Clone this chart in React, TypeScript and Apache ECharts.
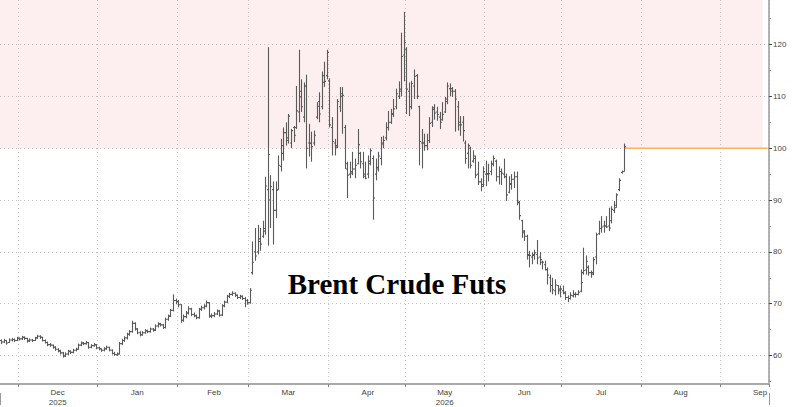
import React, { useEffect, useRef } from "react";
import * as echarts from "echarts";

// ---- data ----
const START_DATE = "2025-11-24";
const DAY_COUNT = 300;
const TITLE = "Brent Crude Futs";
const REF_LEVEL = 100;
const Y_MIN = 54.5;
const Y_MAX = 128.6;
const Y_MAJOR_TICKS = [60, 70, 80, 90, 100, 110, 120];
const Y_MINOR_TICKS = [55, 65, 75, 85, 95, 105, 115, 125];
const MONTH_NAMES = ["Jan", "Feb", "Mar", "Apr", "May", "Jun", "Jul", "Aug", "Sep", "Oct", "Nov", "Dec"];
const YEAR_LABELS: Record<string, string> = { "2025-12": "2025", "2026-05": "2026" };
const YEAR_BREAK = "2026-01-01";

const OPENS = [
  62.9, 62.6, 62.9, 62.5, 63.0, 63.1, 62.9, 63.3, 63.2, 63.5,
  63.3, 62.8, 63.0, 62.9, 63.4, 63.7, 63.5, 62.9, 62.5, 62.1,
  62.0, 61.6, 61.2, 60.9, 60.5, 59.9, 60.3, 60.8, 60.6, 61.0,
  61.2, 62.0, 62.4, 62.3, 62.5, 61.6, 61.9, 62.1, 61.5, 61.3,
  61.0, 61.3, 61.6, 61.0, 60.4, 60.2, 60.3, 62.3, 62.9, 63.4,
  64.1, 64.6, 66.2, 65.1, 64.4, 64.0, 64.4, 64.8, 64.6, 65.1,
  64.9, 65.7, 66.1, 65.9, 65.4, 67.0, 67.6, 68.7, 70.6, 70.4,
  69.8, 66.8, 67.5, 68.2, 69.0, 67.9, 67.7, 67.3, 68.9, 69.2,
  69.5, 70.2, 67.6, 67.7, 68.0, 68.6, 67.8, 69.6, 70.3, 71.4,
  71.8, 72.0, 71.6, 71.2, 71.4, 71.0, 70.6, 70.2, 76, 80,
  80, 82.5, 83, 84, 92, 90, 92, 88, 92, 96.5,
  99, 103, 102, 101, 104, 104, 107, 111, 106, 112,
  101, 101, 101, 106, 109, 108, 114, 114, 113, 104,
  101, 100.5, 108, 110, 104, 96, 95, 95.5, 96, 97,
  99, 97, 95, 95, 97, 98, 95, 96, 98, 101,
  102, 104, 105, 106.5, 108, 110, 111, 118, 119, 111,
  108, 112, 114, 108, 101, 101, 100.5, 101.5, 105, 107.5,
  107, 106, 105.5, 107, 109, 111.5, 111, 111, 108, 105,
  105, 101, 99, 100, 97.5, 98, 95, 93.5, 93, 95,
  95, 95.5, 97, 97.5, 94.5, 95.5, 95, 94.5, 91.5, 93,
  94, 94.5, 89.5, 86, 84, 83, 79.5, 79, 79.5, 79.5,
  79, 78, 77.5, 76.5, 75, 73.5, 72.5, 73.5, 72.5, 72.5,
  72, 71.2, 71, 71.5, 71.8, 71.8, 72.4, 76, 76.5, 77,
  76, 76, 79, 83.5, 84.5, 85, 85, 85, 86, 88,
  89, 92, 95.3, 95.5,
];
const HIGHS = [
  63.1, 63.2, 63.0, 63.3, 63.4, 63.3, 63.6, 63.5, 63.8, 63.7,
  63.4, 63.3, 63.2, 63.6, 64.0, 63.9, 63.6, 63.1, 62.7, 62.4,
  62.1, 61.8, 61.4, 61.1, 60.7, 60.6, 61.1, 61.0, 61.3, 61.5,
  62.3, 62.7, 62.6, 62.8, 62.6, 62.2, 62.4, 62.2, 61.7, 61.4,
  61.6, 61.9, 61.7, 61.2, 60.7, 60.6, 62.6, 63.2, 63.7, 64.4,
  64.9, 66.7, 66.4, 65.3, 64.7, 64.7, 65.1, 65.0, 65.4, 65.3,
  66.0, 66.4, 66.3, 66.1, 67.3, 67.9, 69.0, 71.8, 71.0, 70.7,
  69.9, 67.9, 68.6, 69.5, 69.2, 68.3, 67.9, 69.2, 69.6, 69.9,
  70.6, 70.3, 68.1, 68.4, 68.9, 68.8, 69.9, 70.6, 71.7, 72.1,
  72.4, 72.2, 71.8, 71.7, 71.6, 71.3, 70.9, 73.0, 82, 84.6,
  85.2, 84.6, 86, 94.5, 119.5, 94.8, 93.6, 93.6, 98.6, 101.8,
  104, 105, 106.6, 103.7, 104.3, 112, 119, 113.3, 112.7, 114.2,
  104.7, 103.2, 103.4, 108.9, 110.8, 114.8, 116.7, 119, 113.5, 106,
  101.8, 109.5, 111.8, 111.8, 104.5, 97.4, 97.4, 99.3, 98, 103.7,
  99.3, 99.3, 97.4, 98.6, 100, 98.6, 98, 99.3, 102.2, 102.4,
  105, 107.2, 107.6, 109.5, 111.5, 112.9, 122.3, 126.3, 119.5, 112.7,
  113, 115.2, 114.3, 108.2, 103.7, 102.8, 102.8, 106, 108.1, 108.5,
  108, 107, 108.9, 109.9, 112.7, 112.5, 111.8, 111.4, 109.1, 106.2,
  106.2, 101.5, 100.9, 100.3, 99.6, 98.6, 97.4, 94.2, 96.5, 97.6,
  97, 97.6, 98.6, 97.8, 96.5, 96.1, 98, 95.1, 94.6, 95,
  95.5, 95.5, 89.8, 86.2, 84.2, 83.3, 80.2, 79.9, 80.4, 82.3,
  80, 78.3, 78.3, 77, 75.6, 75, 74.7, 73.6, 73.5, 73.5,
  72.4, 71.6, 72.2, 72.6, 72.2, 72.6, 76.6, 80.8, 79.3, 77.4,
  76.4, 79, 83.7, 86, 86.9, 86, 86.9, 88.5, 88.8, 89.8,
  91.3, 94.2, 95.7, 100.9,
];
const LOWS = [
  62.2, 62.4, 62.1, 62.4, 62.7, 62.6, 62.8, 62.9, 63.0, 63.0,
  62.5, 62.6, 62.6, 62.8, 63.2, 63.2, 62.7, 62.3, 61.8, 61.7,
  61.3, 60.9, 60.6, 60.2, 59.6, 59.7, 60.1, 60.3, 60.4, 60.8,
  61.1, 61.8, 62.0, 62.1, 61.3, 61.4, 61.7, 61.2, 61.0, 60.7,
  60.8, 61.1, 60.8, 60.2, 59.9, 59.9, 60.2, 62.0, 62.6, 63.1,
  63.8, 64.4, 64.8, 64.1, 63.7, 63.8, 64.2, 64.3, 64.4, 64.6,
  64.7, 65.4, 65.6, 65.1, 65.2, 66.7, 67.4, 68.5, 69.9, 69.3,
  66.3, 66.5, 67.2, 67.9, 67.6, 67.4, 67.0, 67.1, 68.6, 68.9,
  69.3, 67.3, 67.2, 67.4, 67.8, 67.5, 67.6, 69.3, 70.1, 71.1,
  71.5, 71.3, 70.9, 70.9, 70.7, 69.3, 69.8, 70.0, 75.6, 78.3,
  79.5, 80.2, 82.7, 83.3, 81.2, 84.6, 81.4, 86.5, 92, 95.5,
  97.6, 100.5, 100.9, 100, 101.2, 103.7, 105, 107, 105, 96.1,
  98.4, 97.4, 100.5, 105.6, 105, 107.5, 111.8, 113.3, 104, 98.6,
  98.6, 100, 107, 102.8, 96, 90.4, 94.2, 94.8, 94.2, 96.9,
  96.1, 94.2, 94.0, 94.2, 96.7, 86.2, 93.8, 95.5, 96.7, 100,
  101.5, 103.4, 104.7, 106, 107.5, 109.5, 110, 112.9, 106.6, 106.2,
  107.5, 109.5, 109.5, 96.7, 96.1, 99.5, 99.6, 101, 104.1, 105.5,
  105.3, 103.7, 105.3, 106.8, 108.5, 110, 109.9, 103.2, 103.4, 102.4,
  101.3, 97, 96.1, 96.1, 97.2, 94.2, 92.9, 91.7, 92.5, 92.7,
  93.6, 94.8, 96.5, 93.6, 93, 92.9, 94.2, 89.8, 91.3, 92,
  92.3, 89, 86.2, 82.7, 82.1, 78.5, 77, 77.6, 78.5, 77.6,
  77.5, 76.6, 76.4, 73.7, 72.2, 71.8, 71.6, 71.8, 71.2, 71.8,
  70.7, 70.3, 70.8, 71.2, 71.2, 71.6, 72.2, 75.6, 75.6, 75.4,
  75, 75.5, 77.6, 83.3, 83.7, 83.7, 84.6, 84, 85.5, 87.5,
  88.5, 91.7, 95.1, 95.5,
];
const CLOSES = [
  62.6, 62.9, 62.4, 63.0, 63.1, 62.9, 63.3, 63.2, 63.5, 63.3,
  62.8, 63.0, 62.9, 63.4, 63.7, 63.5, 62.9, 62.5, 62.1, 62.0,
  61.6, 61.2, 60.9, 60.5, 59.9, 60.3, 60.8, 60.6, 61.0, 61.2,
  62.0, 62.4, 62.3, 62.5, 61.6, 61.9, 62.1, 61.5, 61.3, 61.0,
  61.3, 61.6, 61.0, 60.4, 60.2, 60.3, 62.3, 62.9, 63.4, 64.1,
  64.6, 66.2, 65.1, 64.4, 64.0, 64.4, 64.8, 64.6, 65.1, 64.9,
  65.7, 66.1, 65.9, 65.4, 67.0, 67.6, 68.7, 70.6, 70.4, 69.8,
  66.8, 67.5, 68.2, 69.0, 67.9, 67.7, 67.3, 68.9, 69.2, 69.5,
  70.2, 67.6, 67.7, 68.0, 68.6, 67.8, 69.6, 70.3, 71.4, 71.8,
  72.0, 71.6, 71.2, 71.4, 71.0, 70.6, 70.2, 72.6, 78, 79.2,
  82, 81.5, 84.5, 92.7, 98.8, 92.6, 88, 91.9, 96.7, 100.5,
  103, 101.5, 106.2, 103.4, 102.5, 107.2, 109.9, 108, 112, 100,
  100.9, 100.3, 102.5, 108.1, 106.6, 112.7, 112.9, 118.5, 104.5, 101.3,
  100.2, 109, 110.5, 110.2, 97, 94.8, 95.2, 96, 96.7, 100.7,
  97.4, 94.6, 94.2, 97.5, 99.5, 90.4, 96.3, 98.5, 100.8, 101.5,
  104, 105, 106.7, 107.6, 110.5, 111.4, 117.7, 120.4, 111.4, 108,
  112.5, 113.9, 110, 101.3, 101, 100.5, 101.5, 104.8, 107.8, 106.8,
  106.5, 105, 106.5, 109.5, 112, 111.5, 111, 109.5, 104.5, 104.5,
  103.4, 98, 100.5, 96.7, 98.5, 94.8, 93.5, 92.6, 95.5, 95.1,
  95.1, 96.9, 98, 94.5, 95.5, 95.2, 94.5, 91, 93.2, 94,
  94.5, 89.8, 87, 83.7, 83, 79.3, 79.3, 79.3, 79.8, 78.8,
  78.5, 78, 76.6, 75.5, 73.5, 72.7, 73.6, 72.8, 72.8, 72.2,
  71.2, 71, 71.6, 71.8, 71.8, 72.2, 74.1, 76.4, 78.2, 76,
  75.7, 78.5, 83.3, 84.5, 84.8, 85, 84.8, 84.6, 88.2, 88.5,
  91, 93.8, 95.5, 100.3,
];

function buildDays(start: string, n: number): string[] {
  const out: string[] = [];
  const d = new Date(start + "T00:00:00Z");
  for (let i = 0; i < n; i++) {
    out.push(d.toISOString().slice(0, 10));
    d.setUTCDate(d.getUTCDate() + 1);
  }
  return out;
}

const DAYS = buildDays(START_DATE, DAY_COUNT);

function isMonthStart(_i: number, v: string) {
  return v.slice(8) === "01";
}
function isMidMonth(_i: number, v: string) {
  const y = +v.slice(0, 4);
  const m = +v.slice(5, 7);
  const dim = new Date(Date.UTC(y, m, 0)).getUTCDate();
  return +v.slice(8) === Math.floor(dim / 2) + 1;
}

export default function App() {
  const ref = useRef<HTMLDivElement>(null);
  useEffect(() => {
    if (!ref.current) return;
    const chart = echarts.init(ref.current, undefined, { renderer: "svg" });
    const ohlc = OPENS.map((o, i) => [i, o, HIGHS[i], LOWS[i], CLOSES[i]]);
    const lastIdx = OPENS.length - 1;
    const labelFont = { color: "#444", fontSize: 8, fontFamily: "Liberation Sans" };
    chart.setOption({
      animation: false,
      backgroundColor: "#fff",
      grid: { left: 0, right: 27, top: 0, bottom: 20, containLabel: false },
      xAxis: [
        {
          type: "category",
          data: DAYS,
          boundaryGap: true,
          axisLine: { show: true, lineStyle: { color: "#aaa", width: 2 } },
          axisTick: { show: true, interval: isMonthStart, length: 3, lineStyle: { color: "#888" } },
          axisLabel: {
            ...labelFont,
            interval: isMidMonth,
            margin: 3,
            lineHeight: 10,
            formatter: (v: string) => {
              const m = MONTH_NAMES[+v.slice(5, 7) - 1];
              const yr = YEAR_LABELS[v.slice(0, 7)];
              return yr ? m + "\n" + yr : m;
            },
          },
          splitLine: { show: true, interval: isMonthStart, lineStyle: { color: "#c4c4c4", type: [1, 3], width: 1 } },
        },
        {
          type: "category",
          data: DAYS,
          boundaryGap: true,
          position: "bottom",
          offset: 9,
          axisLine: { show: false },
          axisTick: { show: true, interval: (_i: number, v: string) => v === YEAR_BREAK, length: 12, lineStyle: { color: "#999" } },
          axisLabel: { show: false },
          splitLine: { show: false },
        },
      ],
      yAxis: [
        {
          type: "value",
          position: "right",
          min: Y_MIN,
          max: Y_MAX,
          axisLine: { show: true, lineStyle: { color: "#999", width: 1.5 } },
          axisTick: { show: true, customValues: Y_MAJOR_TICKS, length: 3, lineStyle: { color: "#444" } },
          axisLabel: { ...labelFont, customValues: Y_MAJOR_TICKS, margin: 4 },
          splitLine: { show: true, lineStyle: { color: "#c4c4c4", type: [1, 3], width: 1 } },
        },
        {
          type: "value",
          position: "right",
          min: Y_MIN,
          max: Y_MAX,
          axisLine: { show: false },
          axisTick: { show: true, customValues: Y_MINOR_TICKS, length: 2, lineStyle: { color: "#999" } },
          axisLabel: { show: false },
          splitLine: { show: false },
        },
      ],
      series: [
        {
          type: "line",
          name: "ref",
          xAxisIndex: 0,
          yAxisIndex: 0,
          z: 1,
          symbol: "none",
          lineStyle: { color: "#f5b55a", width: 1.5 },
          data: [
            [DAYS[lastIdx], REF_LEVEL],
            [DAYS[DAY_COUNT - 1], REF_LEVEL],
          ],
          markArea: {
            silent: true,
            itemStyle: { color: "rgba(240,140,140,0.14)" },
            data: [[{ yAxis: REF_LEVEL }, { xAxis: DAYS[DAY_COUNT - 3] }]],
          },
        },
        {
          type: "custom",
          name: "Brent",
          xAxisIndex: 0,
          yAxisIndex: 0,
          z: 3,
          clip: true,
          encode: { x: 0, y: [1, 2, 3, 4] },
          data: ohlc,
          renderItem: (_p: any, api: any) => {
            const i = api.value(0);
            const pO = api.coord([i, api.value(1)]);
            const pH = api.coord([i, api.value(2)]);
            const pL = api.coord([i, api.value(3)]);
            const pC = api.coord([i, api.value(4)]);
            const x = Math.round(pH[0]) + 0.5;
            const t = 1.5;
            const style = { stroke: "#5a5a5a", lineWidth: 1.1 };
            return {
              type: "group",
              children: [
                { type: "line", shape: { x1: x, y1: pH[1], x2: x, y2: pL[1] }, style },
                { type: "line", shape: { x1: x - t, y1: pO[1], x2: x, y2: pO[1] }, style },
                { type: "line", shape: { x1: x, y1: pC[1], x2: x + t, y2: pC[1] }, style },
              ],
            };
          },
        },
      ],
      graphic: [
        {
          type: "text",
          x: 397,
          y: 284,
          z: 10,
          style: {
            text: TITLE,
            font: 'bold 29px "Liberation Serif"',
            fill: "#000",
            align: "center",
            verticalAlign: "middle",
          },
        },
      ],
    });
    return () => chart.dispose();
  }, []);
  return <div ref={ref} style={{ position: "fixed", left: 0, top: 0, width: 796, height: 407 }} />;
}
